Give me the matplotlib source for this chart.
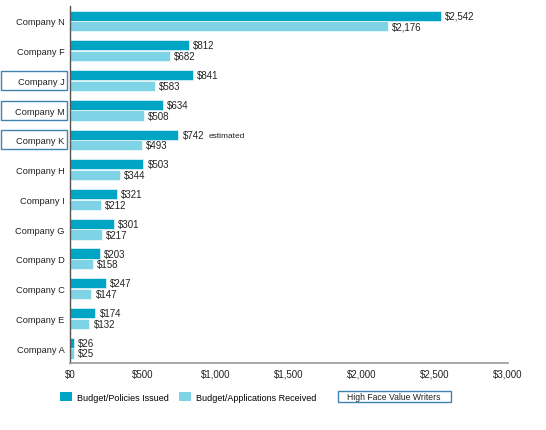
import numpy as np
import matplotlib as mpl
mpl.use('Agg')
import matplotlib.pyplot as plt
from matplotlib.patches import Rectangle, Patch
from matplotlib.transforms import blended_transform_factory

plt.rc('font', family='Liberation Sans', size=7)

### data
companies = ['Company N', 'Company F', 'Company J', 'Company M', 'Company K',
             'Company H', 'Company I', 'Company G', 'Company D', 'Company C',
             'Company E', 'Company A']
policies = [2542, 812, 841, 634, 742, 503, 321, 301, 203, 247, 174, 26]
applications = [2176, 682, 583, 508, 493, 344, 212, 217, 158, 147, 132, 25]
highlighted = ['Company J', 'Company M', 'Company K']
notes = {'Company K': 'estimated'}

c_dark = '#00A5C6'
c_light = '#7ED4E6'
c_box = '#3F84AE'

fig = plt.figure(figsize=(5.46, 4.31), dpi=100)
ax = fig.add_axes([0.1282, 0.1555, 0.8022, 0.828])

y = np.arange(len(companies))
h = 0.34
ax.barh(y - h/2 - 0.01, policies, height=h, color=c_dark, edgecolor='white', linewidth=0.4)
ax.barh(y + h/2 + 0.01, applications, height=h, color=c_light, edgecolor='white', linewidth=0.4)

for i, (p, a) in enumerate(zip(policies, applications)):
    t = ax.annotate('${:,}'.format(p), (p, i - h/2 - 0.01), xytext=(3, 0),
                    textcoords='offset points', va='center', ha='left', fontsize=7, color='#222222')
    note = notes.get(companies[i])
    if note:
        # small note sits on the same baseline, right after the value
        ax.annotate(note, xy=(1, 0), xycoords=t, xytext=(3, 0.3), textcoords='offset points',
                    va='bottom', ha='left', fontsize=6, color='#222222')
    ax.annotate('${:,}'.format(a), (a, i + h/2 + 0.01), xytext=(3, 0),
                textcoords='offset points', va='center', ha='left', fontsize=7, color='#222222')

ax.set_ylim(len(companies) - 0.5, -0.5)
ax.set_xlim(0, 3000)
ax.set_yticks(y)
ax.set_yticklabels(companies)
ax.set_xticks(np.arange(0, 3001, 500))
ax.set_xticklabels(['${:,}'.format(v) for v in range(0, 3001, 500)])
ax.tick_params(axis='both', length=0, colors='#222222')
ax.tick_params(axis='y', pad=4, labelsize=6.7)
ax.tick_params(axis='x', pad=4, labelsize=7)
for s in ['top', 'right']:
    ax.spines[s].set_visible(False)
ax.spines['left'].set_color('#555555')
ax.spines['bottom'].set_color('#999999')
ax.spines['left'].set_linewidth(1)
ax.spines['bottom'].set_linewidth(1.2)

### boxes around highlighted company labels
tr = blended_transform_factory(fig.transFigure, ax.transData)
for name in highlighted:
    i = companies.index(name)
    ax.add_patch(Rectangle((0.001, i - 0.32), 0.122, 0.64, transform=tr,
                           fill=False, edgecolor=c_box, linewidth=1, clip_on=False))

### legend
handles = [Patch(facecolor=c_dark, edgecolor='none'), Patch(facecolor=c_light, edgecolor='none')]
fig.legend(handles, ['Budget/Policies Issued', 'Budget/Applications Received'],
           loc='center left', bbox_to_anchor=(60 / 546, 1 - 398 / 431), ncol=2, frameon=False,
           fontsize=6.5, handlelength=1.35, handleheight=1.1, handletextpad=0.55,
           columnspacing=1.1, borderpad=0, borderaxespad=0)
fig.text(394 / 546, 1 - 397.5 / 431, 'High Face Value Writers', ha='center', va='center',
         fontsize=6.2, color='#222222')
fig.patches.append(Rectangle((338 / 546, 1 - 403 / 431), 113 / 546, 11 / 431,
                             transform=fig.transFigure, fill=False, edgecolor=c_box, linewidth=1))

fig.savefig('out.png', dpi=100)
plt.close()
